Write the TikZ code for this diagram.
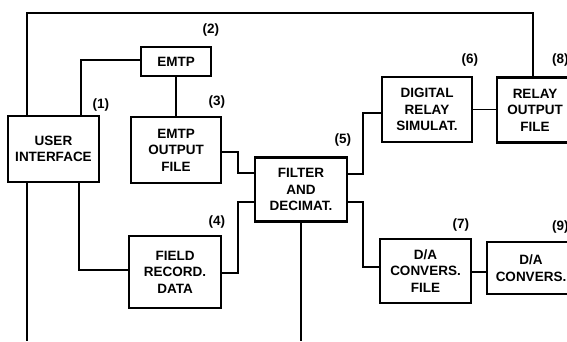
\documentclass[tikz,border=0pt]{standalone}
\usepackage{fontspec}
\setmainfont{Liberation Sans}
\usetikzlibrary{positioning}

\begin{document}
\begin{tikzpicture}[
    x=1pt, y=-1pt,
    font=\fontsize{13.5}{16.5}\selectfont\bfseries,
    block/.style={
        draw, line width=2.8pt, align=center, inner sep=2pt
      },
    link/.style={line width=1.3pt},
    tag/.style={inner sep=0pt, anchor=south east}
  ]
  \useasboundingbox (0,0) rectangle (567,341);

  % blocks
  \node[block, minimum width=91pt, minimum height=66pt] (ui) at (53.5,149) {USER\\INTERFACE};
  \node[block, minimum width=70pt, minimum height=29pt] (emtp) at (176,61.5) {EMTP};
  \node[block, minimum width=90pt, minimum height=66pt] (emtpout) at (176,150) {EMTP\\OUTPUT\\FILE};
  \node[block, minimum width=92pt, minimum height=72pt] (field) at (175,272) {FIELD\\RECORD.\\DATA};
  \node[block, minimum width=92pt, minimum height=64pt] (filter) at (301,189.5) {FILTER\\AND\\DECIMAT.};
  \node[block, minimum width=90pt, minimum height=65pt] (digital) at (427,109.5) {DIGITAL\\RELAY\\SIMULAT.};
  \node[block, minimum width=76pt, minimum height=65pt] (relay) at (535,110) {RELAY\\OUTPUT\\FILE};
  \node[block, minimum width=88pt, minimum height=52pt] (daconv) at (531,268) {D/A\\CONVERS.};
  \node[block, minimum width=91pt, minimum height=64pt] (dafile) at (425.5,271) {D/A\\CONVERS.\\FILE};

  % numbers
  \node[tag] (t1) at ([xshift=9pt, yshift=3pt]ui.north east) {(1)};
  \node[tag] (t2) at ([xshift=7pt, yshift=9pt]emtp.north east) {(2)};
  \node[tag] (t3) at ([xshift=3pt, yshift=7pt]emtpout.north east) {(3)};
  \node[tag] (t4) at ([xshift=3pt, yshift=6pt]field.north east) {(4)};
  \node[tag] (t5) at ([xshift=3pt, yshift=9.5pt]filter.north east) {(5)};
  \node[tag] (t6) at ([xshift=5pt, yshift=9pt]digital.north east) {(6)};
  \node[tag] (t7) at ([xshift=-3pt, yshift=6pt]dafile.north east) {(7)};
  \node[tag, anchor=south west] (t8) at ([xshift=17pt, yshift=9.5pt]relay.north) {(8)};
  \node[tag, anchor=south west] (t9) at ([xshift=21pt, yshift=7pt]daconv.north) {(9)};

  % routing points
  \coordinate (fb) at (27,13);
  \coordinate (top) at (533,13);
  \coordinate (up) at (81,0);
  \coordinate (dn) at (79,0);
  \coordinate (jl) at (238,0);
  \coordinate (jr) at (363,0);
  \coordinate (uibot) at (27,341);
  \coordinate (fbot) at (0,341);

  % connectors
  \draw[link] (ui.north -| fb) |- (top) -- (relay.north -| top);
  \draw[link] (ui.north -| up) |- ([yshift=1.5pt]emtp.west);
  \draw[link] (emtp.south) -- (emtpout.north);
  \draw[link] ([yshift=-2pt]emtpout.east) -- ([yshift=-2pt]emtpout.east -| jl) |- ([yshift=16.5pt]filter.west);
  \draw[link] (ui.south -| dn) |- ([yshift=2pt]field.west);
  \draw[link] ([yshift=-1pt]field.east) -- ([yshift=-1pt]field.east -| jl) |- ([yshift=-12.5pt]filter.west);
  \draw[link] ([yshift=15.5pt]filter.east) -- ([yshift=15.5pt]filter.east -| jr) |- ([yshift=-3.5pt]digital.west);
  \draw[link] (digital.east) -- (digital.east -| relay.west);
  \draw[link] ([yshift=-12.5pt]filter.east) -- ([yshift=-12.5pt]filter.east -| jr) |- ([yshift=4pt]dafile.west);
  \draw[link] ([yshift=-1pt]dafile.east) -- ([yshift=-1pt]dafile.east -| daconv.west);
  \draw[link] (filter.south) -- (filter.south |- fbot);
  \draw[link] (ui.south -| uibot) -- (uibot);

\end{tikzpicture}
\end{document}
